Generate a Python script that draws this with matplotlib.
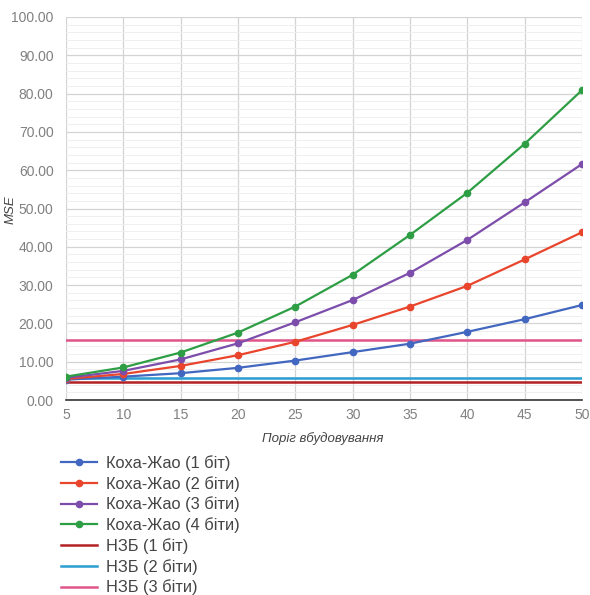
import numpy as np
import matplotlib
matplotlib.use('Agg')
import matplotlib.pyplot as plt
from matplotlib.ticker import MultipleLocator, FormatStrFormatter

# Поріг вбудовування
thresholds = [5, 10, 15, 20, 25, 30, 35, 40, 45, 50]

# Коха-Жао, MSE
koch_1bit = [5.3, 6.1, 7.0, 8.4, 10.3, 12.5, 14.7, 17.8, 21.1, 24.8]
koch_2bit = [5.5, 6.8, 8.9, 11.7, 15.2, 19.6, 24.4, 29.8, 36.7, 43.8]
koch_3bit = [5.8, 7.6, 10.6, 14.8, 20.3, 26.1, 33.2, 41.8, 51.6, 61.6]
koch_4bit = [6.1, 8.5, 12.4, 17.6, 24.4, 32.7, 43.1, 54.1, 66.9, 80.9]

# НЗБ, MSE (не залежить від порогу)
lsb_1bit = 4.7
lsb_2bit = 5.8
lsb_3bit = 15.7

koch_labels = ['Коха-Жао (1 біт)', 'Коха-Жао (2 біти)', 'Коха-Жао (3 біти)', 'Коха-Жао (4 біти)']
lsb_labels = ['НЗБ (1 біт)', 'НЗБ (2 біти)', 'НЗБ (3 біти)']

koch_colors = ['#4267c0', '#e8452c', '#7c4dab', '#2e9e45']
lsb_colors = ['#b22222', '#2c9dd1', '#e0558a']

plt.rcParams['font.family'] = ['Liberation Sans', 'DejaVu Sans']
narrow = ['Liberation Sans Narrow', 'Liberation Sans', 'DejaVu Sans']

fig = plt.figure(figsize=(5.9, 5.95), dpi=100)
ax = fig.add_axes([66 / 590, 1 - 400 / 595, (582 - 66) / 590, (400 - 17) / 595])

# лінії Коха-Жао з точками
for series, label, color in zip([koch_1bit, koch_2bit, koch_3bit, koch_4bit], koch_labels, koch_colors):
    ax.plot(thresholds, series, color=color, marker='o', markersize=4.5, linewidth=1.6,
            label=label, zorder=4)

# горизонтальні лінії НЗБ
x = np.array(thresholds)
for value, label, color in zip([lsb_1bit, lsb_2bit, lsb_3bit], lsb_labels, lsb_colors):
    ax.plot(x, np.full(len(x), value), color=color, linewidth=1.8, label=label, zorder=3)

ax.set_xlim(5, 50)
ax.set_ylim(0, 100)
ax.xaxis.set_major_locator(MultipleLocator(5))
ax.yaxis.set_major_locator(MultipleLocator(10))
ax.yaxis.set_minor_locator(MultipleLocator(2))
ax.yaxis.set_major_formatter(FormatStrFormatter('%.2f'))

ax.grid(which='major', color='#d4d4d4', linewidth=0.9)
ax.grid(which='minor', axis='y', color='#efefef', linewidth=0.7)
ax.set_axisbelow(True)

for side in ['top', 'right', 'left']:
    ax.spines[side].set_visible(False)
ax.spines['bottom'].set_color('#333333')
ax.spines['bottom'].set_linewidth(1.2)

ax.tick_params(which='both', length=0, labelsize=10, labelcolor='#808080')
ax.tick_params(axis='x', pad=6)
ax.tick_params(axis='y', pad=9)
for lbl in ax.get_xticklabels() + ax.get_yticklabels():
    lbl.set_family(narrow)

ax.set_xlabel('Поріг вбудовування', fontsize=9.5, style='italic', color='#444444', family=narrow)
ax.set_ylabel('MSE', fontsize=9.5, style='italic', color='#444444', family=narrow)
ax.xaxis.set_label_coords(0.498, -0.083)
ax.yaxis.set_label_coords(-0.095, 0.496)

handles, labels = ax.get_legend_handles_labels()
fig.legend(handles, labels, loc='upper left', bbox_to_anchor=(61 / 590, 1 - 455 / 595),
           frameon=False, fontsize=11.8, labelcolor='#444444', handlelength=2.2,
           handletextpad=0.55, labelspacing=0.3, borderaxespad=0, borderpad=0)

fig.savefig('out.png', dpi=100)
